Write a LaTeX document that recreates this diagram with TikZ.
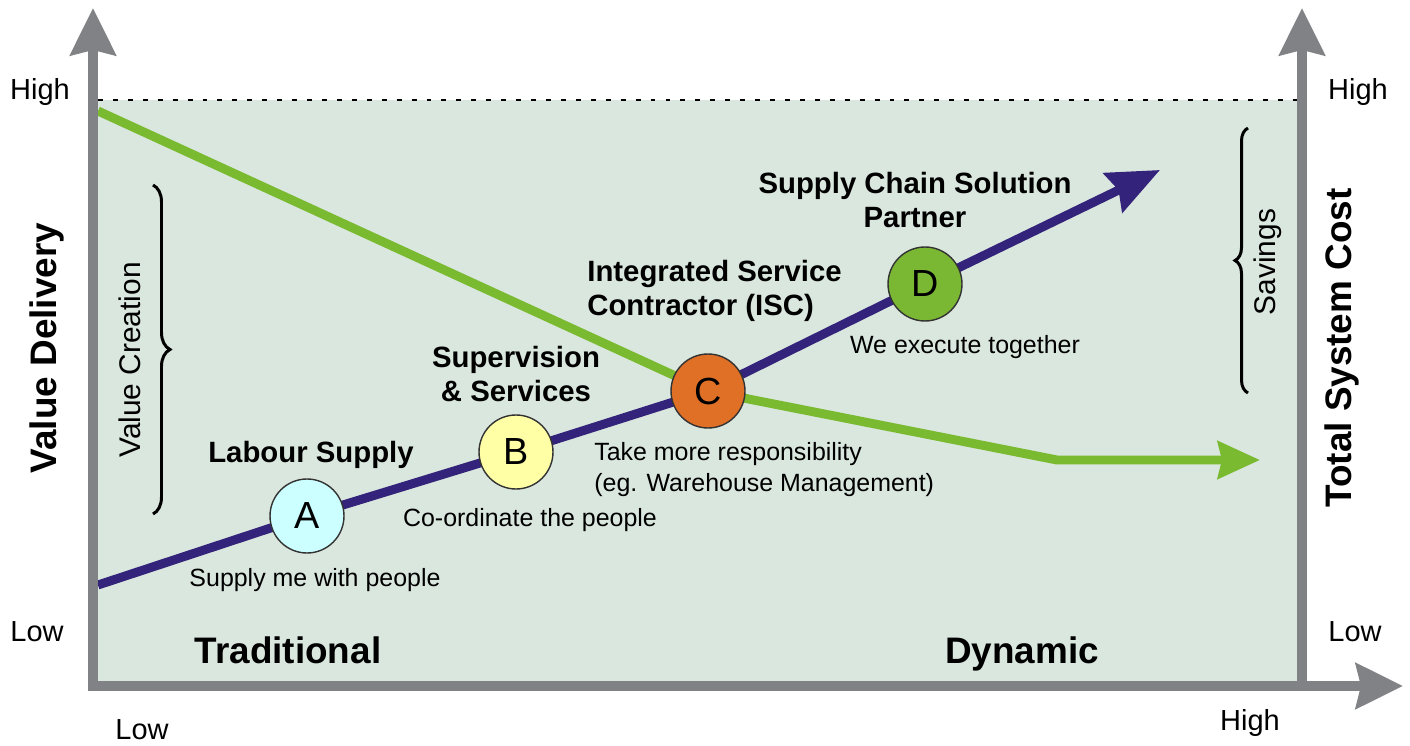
\documentclass[tikz,border=0pt]{standalone}
\usepackage{fontspec}
\setmainfont{Liberation Sans}
\usetikzlibrary{arrows.meta,positioning,decorations.pathreplacing}
\definecolor{axisgray}{HTML}{808285}
\definecolor{panel}{HTML}{DAE7DE}
\definecolor{valuegreen}{HTML}{7ABA30}
\definecolor{pathpurple}{HTML}{33237A}
\definecolor{stageA}{HTML}{CCFFFF}
\definecolor{stageB}{HTML}{FFFFA6}
\definecolor{stageC}{HTML}{E07026}
\definecolor{stageD}{HTML}{7AB834}
\pgfdeclarelayer{back}
\pgfdeclarelayer{mid}
\pgfsetlayers{back,mid,main}
\tikzset{
    axisline/.style={line width=5.7pt, draw=axisgray},
    axisarrow/.style={axisline, -{Stealth[length=0.94cm,width=0.9cm,inset=0.1cm]}},
    stage/.style={circle, draw=black!80, line width=0.8pt, minimum size=1.48cm, inner sep=0pt,
        font=\fontsize{21.5}{25}\selectfont},
    level/.style={inner sep=0pt, font=\fontsize{16.5}{19}\selectfont},
    bigtitle/.style={inner sep=0pt, font=\fontsize{21}{25}\selectfont\bfseries},
    stagetitle/.style={inner sep=0pt, align=center, font=\fontsize{16.7}{19.2}\selectfont\bfseries},
    stagetext/.style={inner sep=0pt, align=left, font=\fontsize{14.2}{17.6}\selectfont},
    bracetext/.style={inner sep=0pt, rotate=90, font=\fontsize{17}{20}\selectfont},
    bracket/.style={draw=black, line width=1.7pt, decorate}
}
\begin{document}
\begin{tikzpicture}[x=0.02cm,y=-0.02cm]
    \useasboundingbox (0,0) rectangle (1410,746);

    % Panel
    \begin{pgfonlayer}{back}
        \fill[panel] (98,100) rectangle (1297,681);
        \draw[line width=1.2pt, dash pattern=on 2.8pt off 5.7pt] (98,100) -- (1297,100);
    \end{pgfonlayer}

    % Stages
    \node[stage, fill=stageA] (A) at (307,516) {A};
    \node[stage, fill=stageB] (B) at (516,452) {B};
    \node[stage, fill=stageC] (C) at (708,391) {C};
    \node[stage, fill=stageD] (D) at (925,284) {D};

    \coordinate (pstart) at (98,585);
    \coordinate (ptip) at (1160,170);
    \coordinate (gstart) at (98,111);
    \coordinate (gbend) at (1057,460);
    \coordinate (gtip) at (1260,460);

    \begin{pgfonlayer}{mid}
        \draw[line width=5.1pt, draw=valuegreen, -{Stealth[length=0.84cm,width=0.74cm,inset=0.08cm]}]
            (gstart) -- (C.center) -- (gbend) -- (gtip);
        \draw[line width=5.1pt, draw=pathpurple, line join=round, -{Stealth[length=1.04cm,width=0.86cm,inset=0.12cm]}]
            (pstart) -- (A.center) -- (B.center) -- (C.center) -- (D.center) -- (ptip);
    \end{pgfonlayer}

    % Axes
    \coordinate (corner) at (88,686);
    \coordinate (xtip) at (1403,686);
    \coordinate (ltop) at (93,8);
    \coordinate (lbottom) at (93,691);
    \coordinate (rtop) at (1302,8);
    \coordinate (rbottom) at (1302,691);
    \draw[axisarrow] (corner) -- (xtip);
    \draw[axisarrow] (lbottom) -- (ltop);
    \draw[axisarrow] (rbottom) -- (rtop);

    % Axis levels
    \node[level] (lhigh) at (40,92) {High};
    \node[level] (llow) at (37,632) {Low};
    \node[level] (xlow) at (142,730) {Low};
    \node[level] (xhigh) at (1250,723) {High};
    \node[level] (rhigh) at (1358,92) {High};
    \node[level] (rlow) at (1355,632) {Low};

    \node[bigtitle, rotate=90] (value) at (47,348) {Value Delivery};
    \node[bigtitle, rotate=90] (cost) at (1342,348) {Total System Cost};
    \node[bigtitle, anchor=base] (trad) at (288,663) {Traditional};
    \node[bigtitle, anchor=base] (dyn) at (1022,663) {Dynamic};

    % Braces
    \draw[bracket, decoration={brace, amplitude=0.34cm}] (153,185) -- (153,514);
    \node[bracetext] (creation) at (130,360) {Value Creation};
    \draw[bracket, decoration={brace, amplitude=0.26cm}] (1248,393) -- (1248,128);
    \node[bracetext] (savings) at (1268,262) {Savings};

    % Stage labels
    \node[stagetitle] (labour) at (311,455) {Labour Supply};
    \node[stagetext] (labourtxt) at (315,580) {Supply me with people};
    \node[stagetitle] (superv) at (516,374) {Supervision\\\& Services};
    \node[stagetext] (supervtxt) at (530,520) {Co-ordinate the people};
    \node[stagetitle, align=left, anchor=west] (isc) at (587,291) {Integrated Service\\Contractor (ISC)};
    \node[stagetext, anchor=west] (isctxt) at (594,470) {Take more responsibility\\(eg. Warehouse Management)};
    \node[stagetitle] (scsp) at (915,200) {Supply Chain Solution\\Partner};
    \node[stagetext] (scsptxt) at (965,347) {We execute together};
\end{tikzpicture}
\end{document}
